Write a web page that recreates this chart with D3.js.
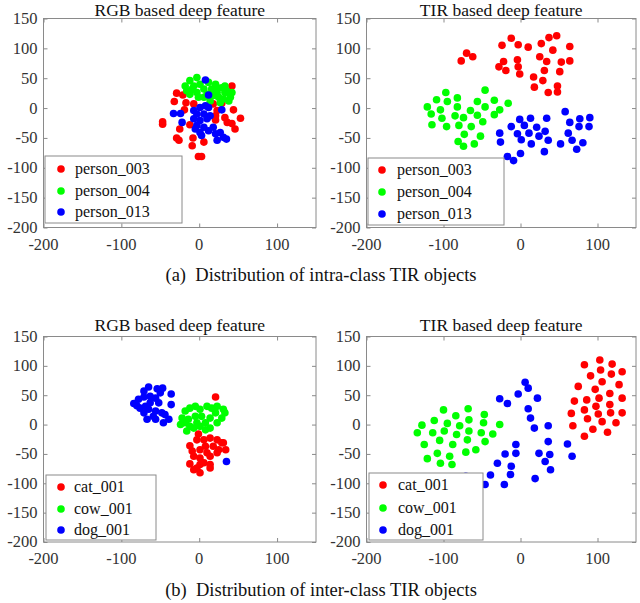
<!DOCTYPE html>
<html><head><meta charset="utf-8">
<script src="https://cdn.jsdelivr.net/npm/d3@7"></script>
<style>body{margin:0;background:#fff}svg{display:block}</style>
</head><body>
<svg id="c" width="640" height="603" font-family="'Liberation Serif', 'Times New Roman', Times, 'DejaVu Serif', serif"></svg>
<script>
// ---------- data ----------
const xTicks = [-200, -100, 0, 100];
const yTicks = [-200, -150, -100, -50, 0, 50, 100, 150];
const intraNames = ["person_003", "person_004", "person_013"];
const interNames = ["cat_001", "cow_001", "dog_001"];
const seriesColors = ["#ff0000", "#00ff00", "#0000ff"];
const panelTitles = ["RGB based deep feature", "TIR based deep feature", "RGB based deep feature", "TIR based deep feature"];
const captions = ["(a)  Distribution of intra-class TIR objects", "(b)  Distribution of inter-class TIR objects"];

// (a) RGB
const intraRGB_p003 = [[42,37],[-29,25],[-21,22],[-32,11],[-17,9],[-7,7],[-19,-3],[-47,-23],[-47,-27],[-25,-35],[-29,-50],[-26,-54],[-8,-50],[-9,-63],[6,-57],[-1,-81],[3,-81],[44,-3],[53,-17],[42,-26],[36,-24],[46,-35],[21,-20],[21,-13],[-12,-28],[18,7],[29,8],[33,-16],[23,-4]];
const intraRGB_p004 = [[-3,51],[-12,46],[-18,37],[-16,29],[-7,37],[1,40],[12,43],[21,40],[23,34],[29,34],[33,26],[40,21],[38,12],[31,15],[25,18],[18,21],[10,23],[6,32],[-3,26],[-12,23],[-1,18],[14,12],[27,9],[35,29],[-9,32],[16,32],[6,18],[23,26],[42,26],[33,37],[40,18]];
const intraRGB_p013 = [[8,47],[12,22],[29,-3],[-33,-9],[-24,-9],[-22,-24],[-7,-4],[1,1],[8,4],[12,1],[-3,-10],[6,-10],[-7,-18],[1,-21],[10,-18],[-3,-29],[6,-32],[12,-38],[18,-32],[21,-43],[27,-41],[31,-49],[35,-52],[23,-54],[1,-41],[-5,-35],[14,-13],[3,-46]];
// (a) TIR
const intraTIR_p003 = [[-77,79],[-70,92],[-62,86],[-24,105],[-12,117],[-3,106],[10,102],[27,108],[37,118],[47,121],[42,97],[64,103],[-22,78],[-4,81],[-28,69],[-19,63],[-3,69],[-1,57],[25,86],[34,78],[53,77],[64,79],[17,52],[29,46],[31,63],[51,61],[18,35],[36,26],[48,37],[48,27]];
const intraTIR_p004 = [[-121,2],[-116,-10],[-115,-28],[-109,14],[-104,-3],[-102,-17],[-97,26],[-95,11],[-96,-31],[-82,17],[-82,2],[-85,-13],[-80,-29],[-81,-56],[-74,-64],[-73,-44],[-74,-16],[-65,-4],[-64,-31],[-56,11],[-56,-12],[-49,-23],[-52,-47],[-60,-60],[-46,30],[-46,2],[-34,13],[-34,-11],[-27,-3],[-16,8]];
const intraTIR_p013 = [[13,-17],[-1,-19],[-12,-31],[5,-29],[21,-32],[34,-17],[-27,-42],[-26,-57],[-4,-43],[1,-53],[11,-42],[24,-47],[32,-39],[36,-54],[14,-60],[0,-76],[-17,-81],[-9,-88],[31,-73],[58,-6],[64,-24],[62,-42],[77,-18],[76,-31],[90,-16],[89,-31],[67,-54],[52,-60],[73,-69],[81,-58]];
// (b) RGB
const interRGB_cat = [[21,47],[-1,-16],[-12,-36],[-9,-45],[-3,-26],[6,-26],[14,-23],[23,-26],[31,-31],[34,-43],[18,-37],[8,-37],[1,-43],[10,-48],[23,-48],[-7,-54],[1,-57],[14,-54],[-12,-67],[-3,-74],[1,-82],[-7,-77],[6,-65],[14,-68],[14,-74],[1,-68],[25,-43],[29,-31]];
const interRGB_cow = [[-22,11],[-18,23],[-12,28],[-5,31],[1,26],[10,31],[16,28],[23,31],[33,20],[29,11],[23,3],[14,-6],[8,-9],[1,-3],[-7,-6],[-16,-11],[-24,0],[-14,9],[-5,14],[3,14],[14,11],[21,20],[8,3],[-3,3],[-12,-3],[-18,3],[31,26]];
const interRGB_dog = [[-65,64],[-71,57],[-54,61],[-47,62],[-50,54],[-36,52],[-84,36],[-78,43],[-71,47],[-63,48],[-56,45],[-76,28],[-69,31],[-63,37],[-52,37],[-36,34],[-80,32],[-71,20],[-65,26],[-56,23],[-48,20],[-44,17],[-39,9],[-46,3],[-67,9],[-59,14],[-56,9],[35,-63]];
// (b) TIR
const interTIR_cat = [[83,102],[103,110],[119,103],[132,90],[91,83],[104,93],[118,86],[75,65],[97,60],[106,73],[128,68],[70,40],[86,42],[102,45],[116,53],[132,45],[66,19],[83,25],[98,31],[101,18],[116,34],[117,20],[132,20],[68,-2],[87,10],[106,5],[124,3],[94,-8],[83,-20],[113,-13]];
const interTIR_cow = [[-100,25],[-68,27],[-84,15],[-112,7],[-128,-1],[-95,2],[-79,-2],[-67,8],[-47,17],[-48,3],[-134,-14],[-114,-14],[-99,-11],[-83,-17],[-67,-11],[-51,-14],[-36,-16],[-105,-27],[-88,-34],[-69,-26],[-46,-29],[-125,-34],[-108,-49],[-92,-54],[-71,-47],[-58,-43],[-121,-58],[-104,-66],[-89,-68],[-27,0]];
const interTIR_dog = [[6,72],[10,62],[-3,52],[-27,44],[-17,36],[22,45],[10,27],[13,11],[18,-6],[36,-2],[36,-29],[24,-49],[38,-51],[32,-63],[39,-77],[19,-92],[-6,-34],[-6,-49],[-20,-50],[-30,-66],[-12,-71],[-13,-85],[-39,-86],[-46,-102],[-21,-102],[61,-33],[67,-54],[-71,-88]];

// ---------- layout ----------
const panels = [
  {box:[43.5,316,18.5,227.5], titleY:15.5, series:[intraRGB_p003,intraRGB_p004,intraRGB_p013], names:intraNames, title:panelTitles[0],
   legend:{x:45,y:156,w:137,h:67,mx:61,tx:75,rows:[169,191,212]}},
  {box:[366.5,636,18.5,227.5], titleY:15.5, series:[intraTIR_p003,intraTIR_p004,intraTIR_p013], names:intraNames, title:panelTitles[1],
   legend:{x:368,y:158,w:136,h:67,mx:382,tx:397,rows:[170,192,214]}},
  {box:[43.5,316,336.5,542], titleY:331, series:[interRGB_cat,interRGB_cow,interRGB_dog], names:interNames, title:panelTitles[2],
   legend:{x:46,y:475,w:110,h:65,mx:61,tx:74,rows:[487,509,530]}},
  {box:[366.5,636,336.5,542], titleY:331, series:[interTIR_cat,interTIR_cow,interTIR_dog], names:interNames, title:panelTitles[3],
   legend:{x:369,y:473,w:114,h:67,mx:383,tx:398,rows:[485,508,530]}}
];

const svg = d3.select("#c");
const axisCol = "#8a8a8a", textCol = "#333", R = 3.8;

panels.forEach(p => {
  const [l, r, t, b] = p.box;
  const x = d3.scaleLinear().domain([-200,150]).range([l,r]);
  const y = d3.scaleLinear().domain([-200,150]).range([b,t]);
  const g = svg.append("g");
  const tk = 4;
  const styleAx = sel => { sel.select(".domain").remove(); sel.selectAll("line").attr("stroke",axisCol); sel.selectAll("text").remove(); };
  g.append("g").attr("transform",`translate(0,${b})`).call(d3.axisTop(x).tickValues(xTicks).tickSize(tk)).call(styleAx);
  g.append("g").attr("transform",`translate(0,${t})`).call(d3.axisBottom(x).tickValues(xTicks).tickSize(tk)).call(styleAx);
  g.append("g").attr("transform",`translate(${l},0)`).call(d3.axisRight(y).tickValues(yTicks).tickSize(tk)).call(styleAx);
  g.append("g").attr("transform",`translate(${r},0)`).call(d3.axisLeft(y).tickValues(yTicks).tickSize(tk)).call(styleAx);
  g.append("rect").attr("x",l).attr("y",t).attr("width",r-l).attr("height",b-t)
    .attr("fill","none").attr("stroke",axisCol).attr("stroke-width",1);
  g.selectAll(".xl").data(xTicks).enter().append("text")
    .attr("x",d=>x(d)).attr("y",b+22).attr("text-anchor","middle")
    .attr("font-size",16.5).attr("fill",textCol).text(d=>d);
  g.selectAll(".yl").data(yTicks).enter().append("text")
    .attr("x",l-6).attr("y",d=>y(d)).attr("dy","0.33em").attr("text-anchor","end")
    .attr("font-size",16.5).attr("fill",textCol).text(d=>d);
  g.append("text").attr("x",(l+r)/2).attr("y",p.titleY).attr("text-anchor","middle")
    .attr("font-size",17.5).attr("fill","#111").text(p.title);
  p.series.forEach((s,i) => {
    g.append("g").selectAll("circle").data(s).enter().append("circle")
      .attr("cx",d=>x(d[0])).attr("cy",d=>y(d[1])).attr("r",R).attr("fill",seriesColors[i]);
  });
  const L = p.legend;
  g.append("rect").attr("x",L.x).attr("y",L.y).attr("width",L.w).attr("height",L.h)
    .attr("fill","#fff").attr("stroke",axisCol).attr("stroke-width",1);
  p.names.forEach((n,i) => {
    g.append("circle").attr("cx",L.mx).attr("cy",L.rows[i]).attr("r",R).attr("fill",seriesColors[i]);
    g.append("text").attr("x",L.tx).attr("y",L.rows[i]).attr("dy","0.33em")
      .attr("font-size",16).attr("fill","#111").text(n);
  });
});

[[281,captions[0]],[596,captions[1]]].forEach(([yy,txt]) => {
  svg.append("text").attr("x",321).attr("y",yy).attr("text-anchor","middle")
    .attr("font-size",18.5).attr("fill","#111").attr("xml:space","preserve").style("white-space","pre").text(txt);
});
</script>
</body></html>
